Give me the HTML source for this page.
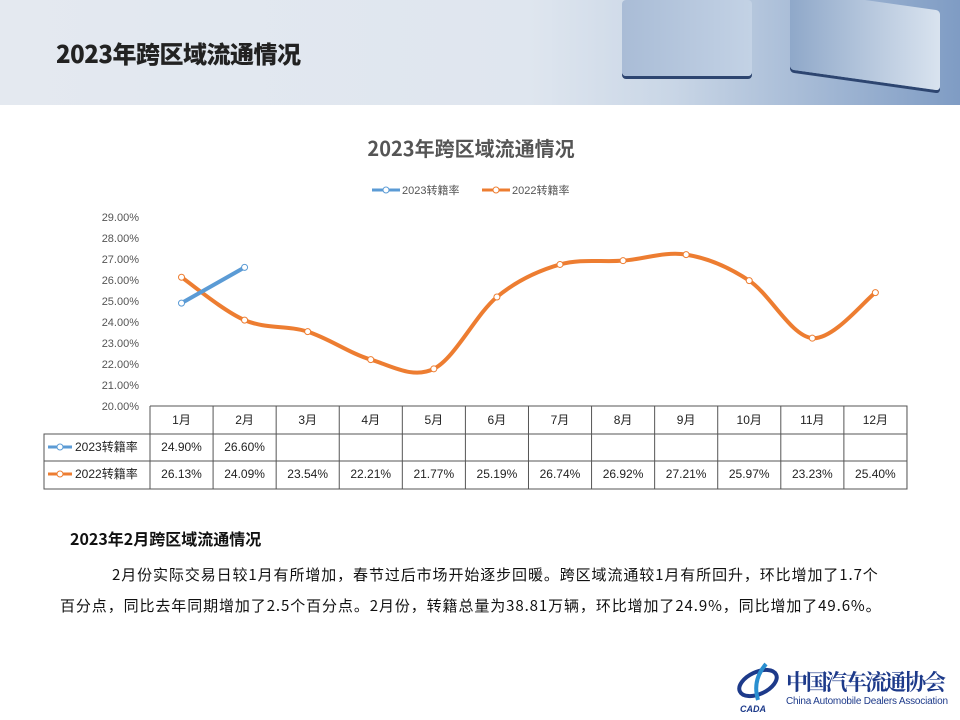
<!DOCTYPE html>
<html><head><meta charset="utf-8"><style>
body{margin:0;width:960px;height:720px;overflow:hidden;background:#fff;font-family:"Liberation Sans","Noto Sans CJK SC",sans-serif;position:relative}
.hdr{position:absolute;left:0;top:0;width:960px;height:105px;background:linear-gradient(90deg,#e4e9f0 0%,#dfe6ef 55%,#c9d6e6 70%,#7f9cc4 100%)}
.hdr h1{position:absolute;left:56px;top:35px;margin:0;font-size:24px;font-weight:900;color:#222;font-family:"Noto Sans CJK SC",sans-serif;letter-spacing:-0.5px}
.cube{position:absolute;border-radius:4px}
.txt{position:absolute;font-family:"Noto Sans CJK SC",sans-serif;color:#111}
</style></head><body>
<div class="hdr">
<div class="cube" style="left:622px;top:0;width:130px;height:76px;background:linear-gradient(90deg,#a9bcd6,#c3d2e5);box-shadow:0 3px 0 #2d4570"></div>
<div class="cube" style="left:790px;top:0;width:150px;height:80px;background:linear-gradient(90deg,#8fa8c9,#d9e3ef);transform:skewY(8deg);box-shadow:0 3px 0 #2d4570"></div>
<h1>2023年跨区域流通情况</h1>
</div>
<svg width="960" height="720" style="position:absolute;left:0;top:0" font-family="Liberation Sans, Noto Sans CJK SC, sans-serif">
<text x="471" y="156" text-anchor="middle" font-size="20" font-weight="bold" fill="#555" font-family="Noto Sans CJK SC,sans-serif">2023年跨区域流通情况</text>
<line x1="372" y1="190" x2="400" y2="190" stroke="#5b9bd5" stroke-width="3"/><circle cx="386" cy="190" r="3" fill="#fff" stroke="#5b9bd5"/>
<text x="402" y="194" font-size="11" fill="#555">2023转籍率</text>
<line x1="482" y1="190" x2="510" y2="190" stroke="#ed7d31" stroke-width="3"/><circle cx="496" cy="190" r="3" fill="#fff" stroke="#ed7d31"/>
<text x="512" y="194" font-size="11" fill="#555">2022转籍率</text>
<g font-size="11" fill="#555" text-anchor="end" id="yax"></g>
<g id="tbl" stroke="#555" stroke-width="1" fill="none"></g>
<g id="tt" font-size="12" fill="#222" text-anchor="middle"></g>
<path id="p22" fill="none" stroke="#ed7d31" stroke-width="4" stroke-linecap="round"/>
<path id="p23" fill="none" stroke="#5b9bd5" stroke-width="4" stroke-linecap="round"/>
<g id="mk"></g>
<line x1="48" y1="447" x2="72" y2="447" stroke="#5b9bd5" stroke-width="3"/><circle cx="60" cy="447" r="3" fill="#fff" stroke="#5b9bd5"/>
<line x1="48" y1="474" x2="72" y2="474" stroke="#ed7d31" stroke-width="3"/><circle cx="60" cy="474" r="3" fill="#fff" stroke="#ed7d31"/>
<text x="75" y="451" font-size="12" fill="#222">2023转籍率</text>
<text x="75" y="478" font-size="12" fill="#222">2022转籍率</text>
<text x="786" y="690" font-size="22" font-weight="bold" fill="#1d3a8a" font-family="Noto Serif CJK SC,serif" textLength="160">中国汽车流通协会</text>
<text x="786" y="704" font-size="10" fill="#1d3a8a" textLength="162">China Automobile Dealers Association</text>
<ellipse cx="758" cy="683" rx="20" ry="11" fill="none" stroke="#1d3a8a" stroke-width="4" transform="rotate(-25 758 683)"/>
<path d="M766 664 Q752 680 758 700" stroke="#2a8fd0" stroke-width="4" fill="none"/>
<text x="740" y="712" font-size="9" font-style="italic" font-weight="bold" fill="#1d3a8a">CADA</text>
</svg>
<div class="txt" style="left:70px;top:526px;font-size:16px;font-weight:bold">2023年2月跨区域流通情况</div>
<div class="txt" style="left:60px;top:559px;width:832px;font-size:15px;letter-spacing:0.9px;line-height:31px;text-indent:52px">2月份实际交易日较1月有所增加，春节过后市场开始逐步回暖。跨区域流通较1月有所回升，环比增加了1.7个百分点，同比去年同期增加了2.5个百分点。2月份，转籍总量为38.81万辆，环比增加了24.9%，同比增加了49.6%。</div>
<script>
const ns="http://www.w3.org/2000/svg";
function el(p,t,a,txt){const e=document.createElementNS(ns,t);for(const k in a)e.setAttribute(k,a[k]);if(txt)e.textContent=txt;document.getElementById(p).appendChild(e);}
const Y=v=>406-(v-20)*21, X=i=>181.5+63.08*i;
for(let v=20;v<=29;v++)el("yax","text",{x:139,y:Y(v)+4},v.toFixed(2)+"%");
el("tbl","path",{d:"M150 406H907V489H44V434H907M44 461H907M44 434V489"});
for(let i=0;i<=12;i++){const x=150+63.08*i;el("tbl","line",{x1:x,y1:406,x2:x,y2:489});}
const d23=[24.90,26.60],d22=[26.13,24.09,23.54,22.21,21.77,25.19,26.74,26.92,27.21,25.97,23.23,25.40];
for(let i=0;i<12;i++){el("tt","text",{x:X(i),y:424},(i+1)+"月");el("tt","text",{x:X(i),y:478},d22[i].toFixed(2)+"%");if(i<2)el("tt","text",{x:X(i),y:451},d23[i].toFixed(2)+"%");}
function path(d){const p=d.map((v,i)=>[X(i),Y(v)]);let s="M"+p[0];for(let i=0;i<p.length-1;i++){const a=p[i-1]||p[i],b=p[i],c=p[i+1],e=p[i+2]||c;s+="C"+[b[0]+(c[0]-a[0])/6,b[1]+(c[1]-a[1])/6]+" "+[c[0]-(e[0]-b[0])/6,c[1]-(e[1]-b[1])/6]+" "+c;}return s;}
document.getElementById("p22").setAttribute("d",path(d22));
document.getElementById("p23").setAttribute("d",path(d23));
d22.forEach((v,i)=>el("mk","circle",{cx:X(i),cy:Y(v),r:3,fill:"#fff",stroke:"#ed7d31"}));
d23.forEach((v,i)=>el("mk","circle",{cx:X(i),cy:Y(v),r:3,fill:"#fff",stroke:"#5b9bd5"}));
</script>
</body></html>
